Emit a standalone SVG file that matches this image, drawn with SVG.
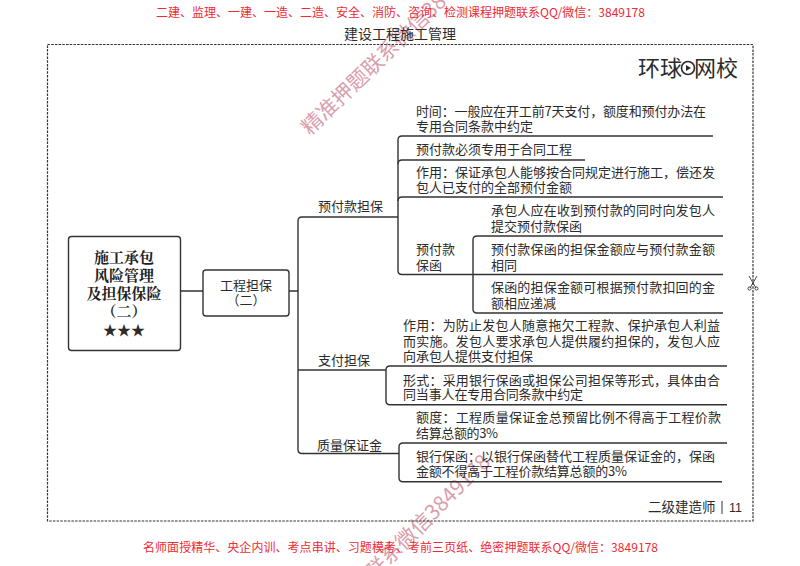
<svg xmlns="http://www.w3.org/2000/svg" width="800" height="566" viewBox="0 0 800 566">
<style>
text{font-family:"Noto Sans CJK SC","Liberation Sans",sans-serif;fill:#2b2b2b}
.t{font-size:13px}
.red{font-size:12px;fill:#ee2a35}
.wm{font-size:21px;fill:#d9a0ad}
.c{text-anchor:middle}
.ln{fill:none;stroke:#333;stroke-width:1.4}
.box{fill:#fff;stroke:#333;stroke-width:1.4}
.title{font-family:"Noto Serif CJK SC","Noto Sans CJK SC",serif;font-weight:700;font-size:15px;fill:#222}
</style>
<rect width="800" height="566" fill="#fff"/>
<g id="watermarks">
<text class="wm" transform="translate(310,136) rotate(-44)">精准押题联系微信3849178</text>
<text class="wm" transform="translate(315,640) rotate(-45)">精准押题联系微信3849178</text>
</g>
<text id="top-banner" class="red c" x="400.500" y="17">二建、监理、一建、一造、二造、安全、消防、咨询、检测课程押题联系QQ/微信&#xFF1A;3849178</text>
<text id="page-title" class="c" x="400" y="39" font-size="14">建设工程施工管理</text>
<rect id="frame" x="47.5" y="44.5" width="705.5" height="476.5" fill="none" stroke="#333" stroke-width="1.2" stroke-dasharray="2.5 1.2"/>
<g id="logo">
<text x="638" y="76" font-size="22" font-weight="400">环球</text>
<circle cx="688" cy="68" r="6.5" fill="none" stroke="#2b2b2b" stroke-width="1.6"/>
<path d="M686 65 L691 68 L686 71Z" fill="#2b2b2b"/>
<text x="694" y="76" font-size="22" font-weight="400">网校</text>
</g>
<g id="scissors" fill="none" stroke="#333" stroke-width="0.9">
<path d="M749 276 L756 288 M757 276 L750 288"/>
<circle cx="749.500" cy="288.500" r="1.600"/>
<circle cx="756.500" cy="288.500" r="1.600"/>
</g>
<g id="connectors" class="ln">
<path d="M180 291H203M289 291H298"/>
<path d="M398 217H302Q298 217 298 221V449.500Q298 453.500 302 453.500H399"/>
<path d="M298 370H386"/>
<path d="M713 136H402Q398 136 398 140V270.500Q398 274.500 402 274.500H723"/>
<path d="M585 160H402Q398 160 398 164"/>
<path d="M723 197H402Q398 197 398 201"/>
<path d="M723 236H477Q473 236 473 240V309Q473 313 477 313H723"/>
<path d="M727 366H390Q386 366 386 370V400.700Q386 404.700 390 404.700H727"/>
<path d="M727 443H403Q399 443 399 447V477.700Q399 481.700 403 481.700H722"/>
</g>
<g id="node-main">
<rect class="box" x="68.500" y="236.500" width="112" height="114" rx="3"/>
<text class="title c" x="124" y="263">施工承包</text>
<text class="title c" x="124" y="281">风险管理</text>
<text class="title c" x="124" y="299">及担保保险</text>
<text class="title c" x="124" y="317">（二）</text>
<text class="c" x="124" y="335" font-size="14" fill="#111">★★★</text>
</g>
<g id="node-guarantee">
<rect class="box" x="203" y="270" width="86" height="46" rx="3"/>
<text class="t c" x="246" y="290">工程担保</text>
<text class="t c" x="246" y="305">（二）</text>
</g>
<g id="node-advance"><text class="t" x="318" y="211">预付款担保</text></g>
<g id="node-payment"><text class="t" x="318" y="365">支付担保</text></g>
<g id="node-quality"><text class="t" x="317" y="450">质量保证金</text></g>
<g id="leaf-1"><text class="t" x="416" y="116" textLength="290">时间&#xFF1A;一般应在开工前7天支付&#xFF0C;额度和预付办法在</text><text class="t" x="416" y="131">专用合同条款中约定</text></g>
<g id="leaf-2"><text class="t" x="416" y="154">预付款必须专用于合同工程</text></g>
<g id="leaf-3"><text class="t" x="416" y="177">作用&#xFF1A;保证承包人能够按合同规定进行施工&#xFF0C;偿还发</text><text class="t" x="416" y="192">包人已支付的全部预付金额</text></g>
<g id="leaf-4"><text class="t" x="416" y="254">预付款</text><text class="t" x="416" y="270">保函</text></g>
<g id="leaf-5"><text class="t" x="491" y="215" textLength="224">承包人应在收到预付款的同时向发包人</text><text class="t" x="491" y="231">提交预付款保函</text></g>
<g id="leaf-6"><text class="t" x="491" y="254" textLength="224">预付款保函的担保金额应与预付款金额</text><text class="t" x="491" y="270">相同</text></g>
<g id="leaf-7"><text class="t" x="491" y="292" textLength="224">保函的担保金额可根据预付款扣回的金</text><text class="t" x="491" y="308">额相应递减</text></g>
<g id="leaf-8"><text class="t" x="403" y="330" textLength="317">作用&#xFF1A;为防止发包人随意拖欠工程款、保护承包人利益</text><text class="t" x="403" y="346" textLength="317">而实施。发包人要求承包人提供履约担保的&#xFF0C;发包人应</text><text class="t" x="403" y="361">向承包人提供支付担保</text></g>
<g id="leaf-9"><text class="t" x="403" y="385" textLength="317">形式&#xFF1A;采用银行保函或担保公司担保等形式&#xFF0C;具体由合</text><text class="t" x="403" y="399" textLength="180">同当事人在专用合同条款中约定</text></g>
<g id="leaf-10"><text class="t" x="416" y="422" textLength="305">额度&#xFF1A;工程质量保证金总预留比例不得高于工程价款</text><text class="t" x="416" y="438" textLength="82">结算总额的3%</text></g>
<g id="leaf-11"><text class="t" x="416" y="461">银行保函&#xFF1A;以银行保函替代工程质量保证金的&#xFF0C;保函</text><text class="t" x="416" y="476" textLength="211">金额不得高于工程价款结算总额的3%</text></g>
<g id="page-footer">
<text x="648" y="512" font-size="13.500">二级建造师</text>
<path d="M722 501V514" stroke="#333" stroke-width="1"/>
<text x="729" y="512" font-size="12.500" style="font-family:'Liberation Sans',sans-serif">11</text>
</g>
<text id="bottom-banner" class="red c" x="400.500" y="552" textLength="515">名师面授精华、央企内训、考点串讲、习题模考、考前三页纸、绝密押题联系QQ/微信&#xFF1A;3849178</text>
</svg>
